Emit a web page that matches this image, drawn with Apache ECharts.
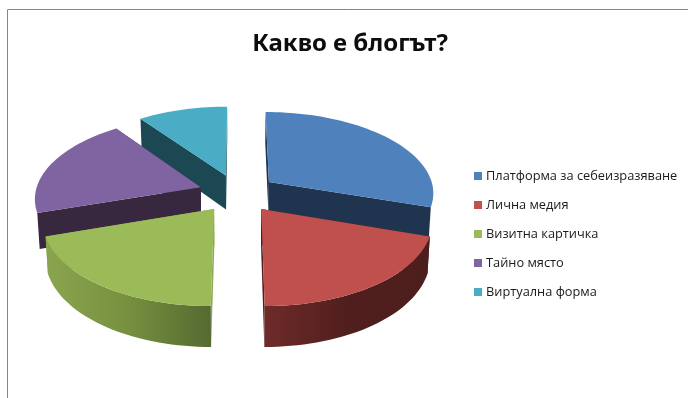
<!DOCTYPE html>
<html>
<head>
<meta charset="utf-8">
<style>html,body{margin:0;padding:0;background:#fff}#c{width:688px;height:398px}</style>
<script src="https://cdn.jsdelivr.net/npm/echarts@6/dist/echarts.min.js"></script>
</head>
<body>
<div id="c"></div>
<script>
// Chart content
const titleText = 'Какво е блогът?';
const categories = ['Платформа за себеизразяване', 'Лична медия', 'Визитна картичка', 'Тайно място', 'Виртуална форма'];
const shares = [30, 20, 20, 20, 10];

// Surface colours of each slice: top, cut faces, and the wall ramp from left to right
const topColors = ['#4F81BD', '#C0504D', '#9BBB59', '#8064A2', '#4BACC6'];
const faceColors = ['#1F344F', '#561E1C', '#8FAA55', '#37283F', '#1C4853'];
const rimColors = [
  null,
  ['#6E2B29', '#501F1D', '#4C1E1C'],
  ['#8AA54F', '#76903F', '#556A30'],
  null,
  null
];

// Perspective camera for the tilted disc
const cam = { cx: 237.7, radius: 165.5, horizon: -476.8, height: 670, persp: 0.121, thick: 35, explode: 0.237, taper: 0.988 };
const STEP = Math.PI / 90;
const total = shares.reduce((a, b) => a + b, 0);

// Project a point of the unit disc (y pointing away from the viewer) to the page
function project(x, y, lowered) {
  const w = 1 / (1 + cam.persp * y);
  const sx = cam.radius * x * w * (lowered ? cam.taper : 1);
  return [cam.cx + sx, cam.horizon + cam.height * w + (lowered ? cam.thick * w : 0)];
}

// Start and end angle of each slice, clockwise from the back of the disc
const spans = [];
shares.reduce((acc, v) => {
  const next = acc + v / total * Math.PI * 2;
  spans.push([acc, next]);
  return next;
}, 0);

function rimPoint(index, angle, lowered) {
  const mid = (spans[index][0] + spans[index][1]) / 2;
  return project(cam.explode * Math.sin(mid) + Math.sin(angle),
                 cam.explode * Math.cos(mid) + Math.cos(angle), lowered);
}
function apexPoint(index, lowered) {
  const mid = (spans[index][0] + spans[index][1]) / 2;
  return project(cam.explode * Math.sin(mid), cam.explode * Math.cos(mid), lowered);
}
function arc(index, from, to, lowered) {
  const pts = [];
  const n = Math.max(1, Math.ceil((to - from) / STEP));
  for (let i = 0; i <= n; i++) pts.push(rimPoint(index, from + (to - from) * i / n, lowered));
  return pts;
}
function ramp(stops) {
  return new echarts.graphic.LinearGradient(0, 0, 1, 0,
    stops.map((color, i) => ({ offset: i / (stops.length - 1), color })));
}
function poly(points, fill) {
  return { type: 'polygon', shape: { points }, style: { fill, stroke: null } };
}

// One solid slice: cut faces, outer wall of the front slices, then the top surface
function renderSlice(index) {
  const [a, b] = spans[index];
  const children = [];
  [a, b].forEach(angle => {
    children.push(poly([apexPoint(index, false), rimPoint(index, angle, false),
                        rimPoint(index, angle, true), apexPoint(index, true)], faceColors[index]));
  });
  if (rimColors[index]) {
    children.push(poly(arc(index, a, b, false).concat(arc(index, a, b, true).reverse()),
                       ramp(rimColors[index])));
  }
  children.push(poly([apexPoint(index, false)].concat(arc(index, a, b, false)), topColors[index]));
  return { type: 'group', children };
}

// Slices nearer the viewer are painted later
const depthRank = spans
  .map((s, i) => ({ i, y: Math.cos((s[0] + s[1]) / 2) }))
  .sort((p, q) => q.y - p.y)
  .reduce((acc, p, rank) => { acc[p.i] = rank + 1; return acc; }, {});

const chart = echarts.init(document.getElementById('c'), null, { renderer: 'canvas' });
chart.setOption({
  animation: false,
  backgroundColor: '#ffffff',
  title: {
    text: titleText, left: 345, top: 27, textAlign: 'center',
    textStyle: { fontFamily: 'Noto Sans', fontSize: 24, fontWeight: 'bold', color: '#0d0d0d' }
  },
  legend: {
    orient: 'vertical', left: 469, top: 163, itemWidth: 8, itemHeight: 8, itemGap: 13, icon: 'rect',
    data: categories, selectedMode: false,
    textStyle: { fontFamily: 'Open Sans', fontSize: 12.8, color: '#1a1a1a', height: 16, lineHeight: 16, padding: [0, 0, 0, -1] }
  },
  graphic: [{
    type: 'rect', silent: true, z: -1,
    shape: { x: 7.5, y: 9.5, width: 900, height: 600 },
    style: { fill: 'transparent', stroke: '#868686', lineWidth: 1 }
  }],
  series: categories.map((name, i) => ({
    type: 'custom', name, coordinateSystem: 'none', silent: true, z: depthRank[i] + 1,
    itemStyle: { color: topColors[i] },
    data: [shares[i]],
    renderItem: () => renderSlice(i)
  }))
});
</script>
</body>
</html>
